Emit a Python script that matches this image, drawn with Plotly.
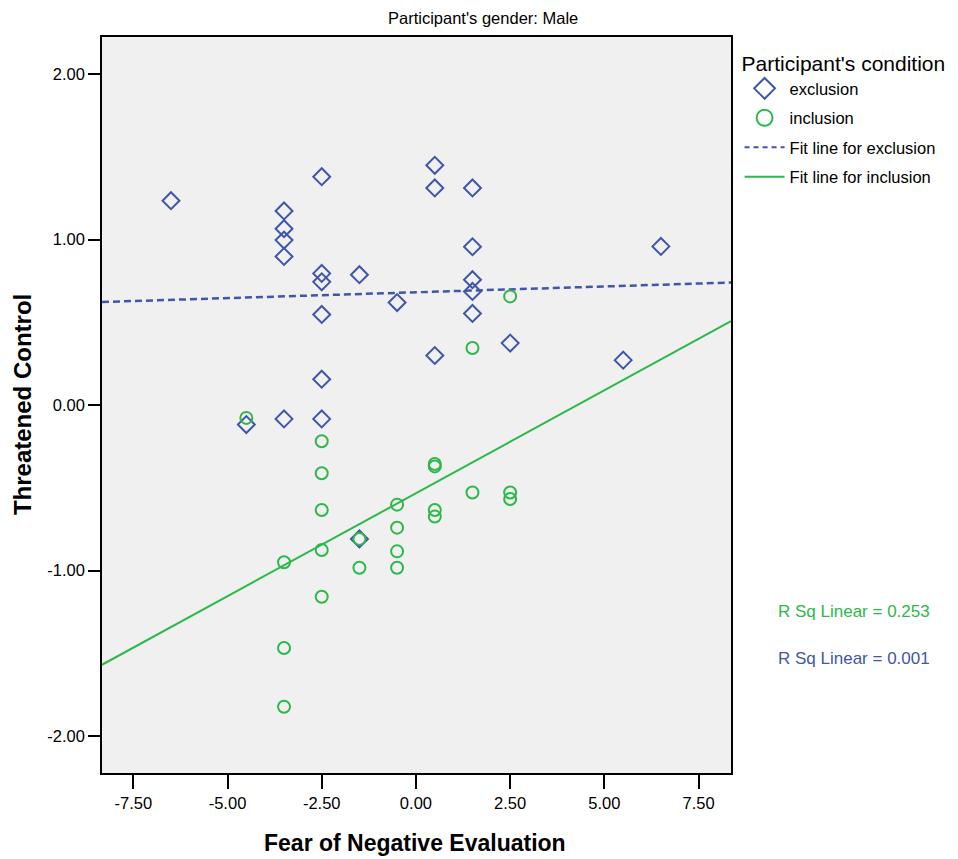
import numpy as np
import plotly.graph_objects as go

# Fear of Negative Evaluation (x) and Threatened Control (y), male participants
excl_x = [-6.5, -3.5, -3.5, -3.5, -3.5, -3.5, -2.5, -2.5, -2.5, -2.5, -2.5, -2.5,
          -1.5, -1.5, -0.5, -4.5, 0.5, 0.5, 0.5, 1.5, 1.5, 1.5, 1.5, 1.5, 2.5, 5.5, 6.5]
excl_y = [1.235, 1.173, 1.066, 0.997, 0.898, -0.083, 1.380, 0.796, 0.745, 0.548, 0.157, -0.083,
          0.788, -0.808, 0.620, -0.117, 1.449, 1.312, 0.300, 1.312, 0.957, 0.758, 0.687, 0.554,
          0.375, 0.272, 0.959]

incl_x = [-4.5, -3.5, -3.5, -3.5, -2.5, -2.5, -2.5, -2.5, -2.5, -1.5, -1.5, -0.5,
          -0.5, -0.5, -0.5, 0.5, 0.5, 0.5, 0.5, 1.5, 1.5, 2.5, 2.5, 2.5]
incl_y = [-0.077, -0.949, -1.467, -1.822, -0.218, -0.411, -0.633, -0.875, -1.157, -0.808, -0.982,
          -0.601, -0.740, -0.883, -0.982, -0.355, -0.370, -0.633, -0.673, 0.345, -0.528, 0.657,
          -0.528, -0.567]

r2_labels = ["R Sq Linear = 0.253", "R Sq Linear = 0.001"]

x_ticks = [-7.5, -5.0, -2.5, 0.0, 2.5, 5.0, 7.5]
x_tick_text = ["-7.50", "-5.00", "-2.50", "0.00", "2.50", "5.00", "7.50"]
y_ticks = [-2.0, -1.0, 0.0, 1.0, 2.0]
y_tick_text = ["-2.00", "-1.00", "0.00", "1.00", "2.00"]
x_range = [-8.33, 8.36]
y_range = [-2.222, 2.224]

BLUE = "#3F56A9"
GREEN = "#2DB84A"
FONT = "Liberation Sans, Arial, sans-serif"

# least-squares fit lines over the full axis span
ex_fit = np.polyfit(excl_x, excl_y, 1)
in_fit = np.polyfit(incl_x, incl_y, 1)
fit_x = np.array(x_range)

fig = go.Figure()

fig.add_trace(go.Scatter(
    x=fit_x, y=np.polyval(ex_fit, fit_x), mode="lines", showlegend=False,
    line=dict(color=BLUE, width=2.5, dash="7px,4px"), hoverinfo="skip"))
fig.add_trace(go.Scatter(
    x=fit_x, y=np.polyval(in_fit, fit_x), mode="lines", showlegend=False,
    line=dict(color=GREEN, width=2), hoverinfo="skip"))

fig.add_trace(go.Scatter(
    x=excl_x, y=excl_y, mode="markers", showlegend=False,
    marker=dict(symbol="diamond-open", size=13, color=BLUE, line=dict(width=2, color=BLUE))))
fig.add_trace(go.Scatter(
    x=incl_x, y=incl_y, mode="markers", showlegend=False,
    marker=dict(symbol="circle-open", size=12, color=GREEN, line=dict(width=2, color=GREEN))))

# legend entries
fig.add_trace(go.Scatter(
    x=[None], y=[None], mode="markers", name="exclusion", legendgroup="a",
    marker=dict(symbol="diamond-open", size=16, color=BLUE, line=dict(width=2, color=BLUE))))
fig.add_trace(go.Scatter(
    x=[None], y=[None], mode="markers", name="inclusion", legendgroup="b",
    marker=dict(symbol="circle-open", size=16, color=GREEN, line=dict(width=2, color=GREEN))))
fig.add_trace(go.Scatter(
    x=[None], y=[None], mode="lines", name="Fit line for exclusion", legendgroup="c",
    line=dict(color=BLUE, width=2, dash="5px,4px")))
fig.add_trace(go.Scatter(
    x=[None], y=[None], mode="lines", name="Fit line for inclusion", legendgroup="d",
    line=dict(color=GREEN, width=2)))

axis_common = dict(
    showline=True, linecolor="black", linewidth=1.5, mirror=True,
    showgrid=False, zeroline=False, ticks="outside", tickcolor="black",
    tickwidth=1.5, tickfont=dict(family=FONT, size=16.5, color="black"),
    automargin=False,
)

fig.update_xaxes(range=x_range, tickvals=x_ticks, ticktext=x_tick_text, ticklen=14,
                 **axis_common)
fig.update_yaxes(range=y_range, tickvals=y_ticks, ticktext=y_tick_text, ticklen=12,
                 **axis_common)

fig.update_layout(
    width=958, height=859,
    margin=dict(l=102, r=227, t=37, b=86, autoexpand=False),
    paper_bgcolor="white", plot_bgcolor="#F0F0F0",
    font=dict(family=FONT, color="black"),
    legend=dict(
        title=dict(text="Participant's condition", font=dict(size=21, family=FONT)),
        font=dict(size=16.5, family=FONT),
        xref="container", yref="container",
        x=0.772, xanchor="left", y=0.949, yanchor="top",
        bgcolor="rgba(0,0,0,0)", tracegroupgap=5, itemwidth=40,
    ),
    annotations=[
        dict(text="Participant's gender: Male", xref="paper", yref="paper",
             x=0.6057, y=1.026, xanchor="center", yanchor="middle",
             showarrow=False, font=dict(size=16.5, family=FONT)),
        dict(text="<b>Fear of Negative Evaluation</b>", xref="paper", yref="paper",
             x=0.497, y=-0.095, xanchor="center", yanchor="middle",
             showarrow=False, font=dict(size=23, family=FONT)),
        dict(text="<b>Threatened Control</b>", xref="paper", yref="paper",
             x=-0.127, y=0.50, xanchor="center", yanchor="middle", textangle=-90,
             showarrow=False, font=dict(size=24, family=FONT)),
        dict(text=r2_labels[0], xref="paper", yref="paper",
             x=1.071, y=0.2188, xanchor="left", yanchor="middle",
             showarrow=False, font=dict(size=17, family=FONT, color=GREEN)),
        dict(text=r2_labels[1], xref="paper", yref="paper",
             x=1.071, y=0.156, xanchor="left", yanchor="middle",
             showarrow=False, font=dict(size=17, family=FONT, color=BLUE)),
    ],
)

fig.write_html("out.html")
